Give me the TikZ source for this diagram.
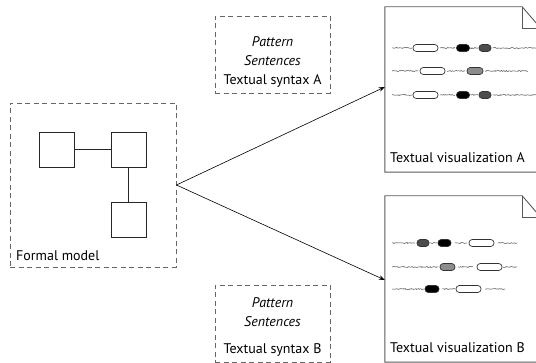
\documentclass[tikz,border=0pt]{standalone}
\usepackage{fontspec}
\setmainfont{PT Sans}
\usetikzlibrary{arrows.meta,decorations.pathmorphing}
\begin{document}
\begin{tikzpicture}[x=1pt,y=-1pt,
  dbox/.style={draw=black!60, line width=0.9pt, dash pattern=on 5pt off 3.5pt, minimum width=#1, inner sep=0pt},
  sqbox/.style={draw=black!85, line width=0.8pt, minimum size=35pt, inner sep=0pt},
  docline/.style={draw=black!65, line width=0.9pt, line join=miter},
  pill/.style={draw=black!80, line width=0.7pt, rounded corners=3.3pt, minimum height=7pt, minimum width=#1, inner sep=0pt},
  squig/.style={draw=black!75, line width=0.5pt, decorate, decoration={random steps, segment length=1pt, amplitude=0.5pt}},
  lbl/.style={font=\fontsize{14}{16}\selectfont, inner sep=0pt},
  itl/.style={font=\fontsize{14}{16}\selectfont\itshape, inner sep=0pt},
  arr/.style={draw=black, line width=0.6pt, -{Stealth[length=6pt,width=4.5pt]}}
]
\useasboundingbox (0,0) rectangle (536,363);
\pgfmathsetseed{7}
% formal model
\node[dbox=166pt, minimum height=164pt] (fm) at (93,185) {};
\node[sqbox] (s1) at (57,149.5) {};
\node[sqbox] (s2) at (128.5,149.5) {};
\node[sqbox] (s3) at (128.5,219.5) {};
\draw[black!85, line width=0.7pt] (s1) -- (s2);
\draw[black!85, line width=0.7pt] (s2) -- (s3);
\node[lbl, anchor=west] (fmt) at (16,256) {Formal model};
% syntax boxes
\node[dbox=115pt, minimum height=77pt] (sa) at (272.5,54.5) {};
\node[itl] (sa1) at (272.5,42) {Pattern};
\node[itl] (sa2) at (272.5,61) {Sentences};
\node[lbl] (sa3) at (272.5,81) {Textual syntax A};
\node[dbox=115pt, minimum height=77pt] (sb) at (272.5,323.5) {};
\node[itl] (sb1) at (272.5,303) {Pattern};
\node[itl] (sb2) at (272.5,322) {Sentences};
\node[lbl] (sb3) at (272.5,350) {Textual syntax B};
% documents
\node[minimum width=156pt, minimum height=165pt, inner sep=0pt] (da) at (463,89.5) {};
\node[minimum width=156pt, minimum height=166pt, inner sep=0pt] (db) at (463,279) {};
\foreach \d in {da,db}{
  \draw[docline] (\d.south west) -- (\d.north west) -- ([xshift=-19pt]\d.north east) -- ([yshift=-22pt]\d.north east) -- (\d.south east) -- cycle;
  \draw[docline] ([xshift=-19pt]\d.north east) -- ++(0,22) -- ++(19,0);
}
\node[lbl, anchor=west] (dat) at (390,158) {Textual visualization A};
\node[lbl, anchor=west] (dbt) at (390,348) {Textual visualization B};
% arrows
\draw[arr] (fm.east) -- ([yshift=2.5pt]da.west);
\draw[arr] (fm.east) -- ([yshift=-1pt]db.west);
% doc A rows
\draw[squig] (392,48) -- (412,48);
\node[pill=25pt, fill=white] (a1) at (425.5,48) {};
\draw[squig] (440,48) -- (455,48);
\node[pill=13pt, fill=black] (a2) at (463,48) {};
\draw[squig] (470,48) -- (478,48);
\node[pill=12pt, fill=black!70] (a3) at (485,48) {};
\draw[squig] (493,48) -- (537,48);

\draw[squig] (392,71) -- (418,71);
\node[pill=25pt, fill=white] (a4) at (432.5,71) {};
\draw[squig] (447,71) -- (465,71);
\node[pill=16pt, fill=black!45] (a5) at (475,71) {};
\draw[squig] (485,71) -- (528,71);

\draw[squig] (392,95) -- (412,95);
\node[pill=25pt, fill=white] (a6) at (425.5,95) {};
\draw[squig] (440,95) -- (455,95);
\node[pill=13pt, fill=black] (a7) at (463,95) {};
\draw[squig] (470,95) -- (478,95);
\node[pill=12pt, fill=black!70] (a8) at (485,95) {};
\draw[squig] (493,95) -- (537,95);
% doc B rows
\draw[squig] (392,243) -- (415,243);
\node[pill=12pt, fill=black!70] (b1) at (423,243) {};
\draw[squig] (430,243) -- (437,243);
\node[pill=13pt, fill=black] (b2) at (444.5,243) {};
\draw[squig] (455,243) -- (467,243);
\node[pill=25pt, fill=white] (b3) at (481.5,243) {};
\draw[squig] (498,243) -- (517,243);

\draw[squig] (392,267) -- (438,267);
\node[pill=15pt, fill=black!45] (b4) at (447.5,267) {};
\draw[squig] (458,267) -- (473,267);
\node[pill=25pt, fill=white] (b5) at (489.5,267) {};
\draw[squig] (503,267) -- (517,267);

\draw[squig] (392,289) -- (424,289);
\node[pill=14pt, fill=black] (b6) at (432,289) {};
\draw[squig] (442,289) -- (455,289);
\node[pill=25pt, fill=white] (b7) at (468.5,289) {};
\draw[squig] (485,289) -- (505,289);
\end{tikzpicture}
\end{document}
